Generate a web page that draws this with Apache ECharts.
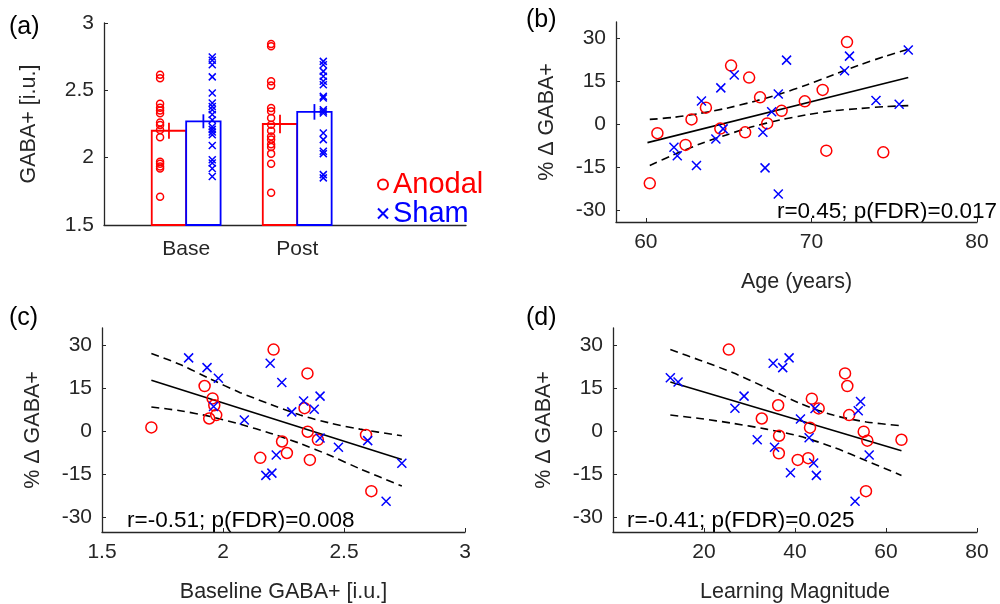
<!DOCTYPE html>
<html>
<head>
    <meta charset="utf-8">
    <title>GABA+ figure</title>
    <script src="https://cdn.jsdelivr.net/npm/echarts@6/dist/echarts.min.js"></script>
</head>
<style>
html, body { margin: 0; width: 100%; height: 100%; background: #fff; }
div#main { width: 1000px; height: 604px; }
</style>
<body>
    <div id="main"></div>
    <script type="text/javascript">
        // ---- panel (a): GABA+ per session
        var groups = ['Base', 'Post'];
        var barAnodal = [2.20, 2.25];
        var barSham = [2.27, 2.34];
        var seAnodal = [0.06, 0.068];
        var seSham = [0.052, 0.058];
        var baseAnodal = [2.616, 2.59, 2.40, 2.37, 2.35, 2.33, 2.262, 2.242, 2.205, 2.151, 1.97, 1.955, 1.935, 1.92, 1.71];
        var baseSham = [2.748, 2.723, 2.69, 2.60, 2.48, 2.406, 2.38, 2.356, 2.32, 2.28, 2.23, 2.21, 2.19, 2.17, 2.09, 1.985, 1.96, 1.92, 1.86];
        var postAnodal = [2.844, 2.827, 2.567, 2.535, 2.369, 2.344, 2.295, 2.245, 2.20, 2.158, 2.134, 2.10, 2.08, 2.03, 1.955, 1.74];
        var postSham = [2.715, 2.69, 2.641, 2.604, 2.567, 2.542, 2.455, 2.443, 2.356, 2.344, 2.332, 2.183, 2.134, 2.047, 2.03, 1.874, 1.85];

        // ---- panel (b): age
        var ageAnodal = [[60.24,-20.6],[60.7,-3.1],[62.4,-7.2],[62.76,1.7],[63.63,5.8],[64.5,-1.5],[65.15,20.5],[66.0,-2.8],[66.24,16.3],[66.9,9.4],[67.33,0.3],[68.2,4.7],[69.6,8.0],[70.68,12.0],[70.9,-9.2],[72.15,28.7],[74.34,-9.8]];
        var ageSham = [[61.7,-8.0],[61.9,-11.0],[63.06,-14.4],[63.36,8.1],[64.23,-5.1],[64.53,12.7],[64.67,-1.6],[65.34,17.2],[67.07,-2.8],[67.2,-15.2],[67.6,4.4],[68.0,10.6],[68.0,-24.3],[68.5,22.4],[72.0,18.7],[72.3,23.8],[73.9,8.3],[75.3,7.0],[75.85,25.9]];
        var ageFit = [[60.1,-6.4],[75.85,16.3]];
        var ageUpper = [[60.24,1.7],[61.65,2.4],[63.26,3.8],[64.87,5.6],[66.48,7.9],[68.1,10.6],[69.7,13.7],[71.3,17.2],[72.9,20.7],[74.5,23.8],[75.85,26.2]];
        var ageLower = [[60.24,-14.4],[61.65,-10.7],[63.26,-6.9],[64.87,-3.7],[66.48,-0.8],[68.1,1.5],[69.7,3.3],[71.3,4.7],[72.9,5.5],[74.5,6.2],[75.85,6.5]];

        // ---- panel (c): baseline GABA+
        var gabaAnodal = [[1.704,1.4],[1.924,15.8],[1.957,11.5],[1.964,9.1],[1.972,5.7],[1.943,4.5],[2.209,28.5],[2.349,20.2],[2.337,8.1],[2.35,-0.1],[2.392,-2.9],[2.244,-3.5],[2.264,-7.5],[2.154,-9.2],[2.359,-9.9],[2.591,-1.2],[2.613,-20.8]];
        var gabaSham = [[1.858,25.6],[1.934,22.2],[1.981,18.5],[1.961,8.7],[2.088,4.0],[2.195,23.7],[2.243,17.0],[2.284,6.8],[2.333,10.6],[2.377,7.7],[2.401,12.3],[2.401,-2.3],[2.22,-8.2],[2.177,-15.3],[2.202,-14.5],[2.477,-5.5],[2.598,-3.2],[2.674,-24.3],[2.739,-11.1]];
        var gabaFit = [[1.704,17.8],[2.739,-9.8]];
        var gabaUpper = [[1.704,27.1],[1.823,23.3],[1.947,18.3],[2.071,13.5],[2.195,9.5],[2.319,5.7],[2.443,2.9],[2.566,0.8],[2.739,-1.5]];
        var gabaLower = [[1.704,8.5],[1.823,7.2],[1.947,5.2],[2.071,2.5],[2.195,-0.6],[2.319,-4.2],[2.443,-8.4],[2.566,-13.0],[2.739,-19.0]];

        // ---- panel (d): learning magnitude
        var learnAnodal = [[25.45,28.5],[36.3,9.1],[32.7,4.5],[36.5,-1.5],[36.45,-7.6],[40.6,-9.9],[42.9,-9.3],[43.7,11.4],[45.2,8.0],[43.3,1.3],[51.0,20.2],[51.5,15.8],[51.9,5.7],[55.1,-0.1],[55.9,-3.2],[63.4,-2.9],[55.6,-20.8]];
        var learnSham = [[12.6,18.7],[14.3,17.2],[26.8,8.1],[28.8,12.3],[31.7,-2.9],[35.2,23.7],[37.3,22.2],[38.7,25.6],[35.5,-5.5],[39.0,-14.4],[41.2,4.3],[43.1,-2.2],[44.4,8.0],[44.1,-11.0],[44.7,-15.3],[53.9,7.2],[54.4,10.4],[56.3,-8.2],[53.2,-24.3]];
        var learnFit = [[12.6,17.2],[63.4,-6.7]];
        var learnUpper = [[12.6,28.5],[19.07,24.8],[26.4,20.4],[33.7,15.2],[41.07,9.8],[48.4,5.7],[55.7,3.3],[63.4,2.0]];
        var learnLower = [[12.6,5.7],[19.07,4.5],[26.4,2.8],[33.7,0.8],[41.07,-1.7],[48.4,-5.5],[55.7,-10.2],[63.4,-15.3]];

        var stats = ['r=0.45; p(FDR)=0.017', 'r=-0.51; p(FDR)=0.008', 'r=-0.41; p(FDR)=0.025'];
        var pctTicks = [-30, -15, 0, 15, 30];

        var RED = '#ff0000', BLUE = '#0000ff', INK = '#262626';
        var FONT = 'Liberation Sans, Arial, Helvetica, sans-serif';
        var CROSS = 'path://M0,0L10,10M10,0L0,10';

        function axis(grid, min, max, ticks, extra) {
            return Object.assign({
                type: 'value', gridIndex: grid, min: min, max: max,
                axisLine: { show: true, onZero: false, lineStyle: { color: INK, width: 1.3 } },
                axisTick: { show: true, inside: true, length: 4, customValues: ticks, lineStyle: { color: INK } },
                axisLabel: { customValues: ticks, color: INK, fontSize: 21, fontFamily: FONT, margin: 10 },
                splitLine: { show: false },
                nameLocation: 'middle',
                nameTextStyle: { color: INK, fontSize: 21.5, fontFamily: FONT }
            }, extra || {});
        }

        function dots(name, idx, data, size) {
            var isA = name === 'Anodal';
            return {
                type: 'scatter', name: name, xAxisIndex: idx, yAxisIndex: idx, data: data,
                symbol: isA ? 'circle' : CROSS, symbolSize: size,
                itemStyle: { color: 'rgba(0,0,0,0)', borderColor: isA ? RED : BLUE, borderWidth: 1.5, opacity: 1 },
                emphasis: { disabled: true }, z: 3
            };
        }

        function line(idx, data, dashed) {
            return {
                type: 'line', xAxisIndex: idx, yAxisIndex: idx, data: data, symbol: 'none',
                smooth: dashed ? 0.3 : false, silent: true,
                lineStyle: { color: '#000', width: 1.6, type: dashed ? [8, 5] : 'solid' }, z: 2
            };
        }

        // panel (a) pieces placed around each group's position
        var barW = 0.31, dotOff = 0.235;
        function barsData(means, ses, side) {
            return means.map(function (m, i) { return [i + 1, m, ses[i], side]; });
        }
        function renderBar(params, api) {
            var c = api.value(0), m = api.value(1), se = api.value(2), side = api.value(3);
            var x0 = side < 0 ? c - barW : c, x1 = side < 0 ? c : c + barW;
            var tl = api.coord([x0, m]), br = api.coord([x1, 1.5]);
            var mid = api.coord([(x0 + x1) / 2, m + se]), low = api.coord([(x0 + x1) / 2, m - se]);
            var col = side < 0 ? RED : BLUE;
            return {
                type: 'group', children: [
                    { type: 'rect', shape: { x: tl[0], y: tl[1], width: br[0] - tl[0], height: br[1] - tl[1] },
                      style: { fill: '#fff', stroke: col, lineWidth: 1.8 } },
                    { type: 'line', shape: { x1: mid[0], y1: mid[1], x2: low[0], y2: low[1] },
                      style: { stroke: col, lineWidth: 1.8 } }
                ]
            };
        }
        function spread(vals, pos) {
            return vals.map(function (v) { return [pos, v]; });
        }

        var myChart = echarts.init(document.getElementById('main'), null, { renderer: 'canvas' });
        var option = {
            animation: false,
            textStyle: { fontFamily: FONT },
            grid: [
                { left: 104, top: 23, width: 362, height: 202 },
                { left: 616, top: 22, width: 361, height: 200 },
                { left: 102, top: 328, width: 363, height: 205 },
                { left: 613, top: 328, width: 364, height: 206 }
            ],
            xAxis: [
                axis(0, 0.26, 3.52, [1, 2], {
                    axisTick: { show: false },
                    axisLabel: { customValues: [1, 2], color: INK, fontSize: 21, fontFamily: FONT, margin: 14,
                        formatter: function (v) { return groups[Math.round(v) - 1]; } }
                }),
                axis(1, 58.2, 80, [60, 70, 80], { name: 'Age (years)', nameGap: 49 }),
                axis(2, 1.5, 3, [1.5, 2, 2.5, 3], { name: 'Baseline GABA+ [i.u.]', nameGap: 49 }),
                axis(3, 0, 80, [20, 40, 60, 80], { name: 'Learning Magnitude', nameGap: 49 })
            ],
            yAxis: [
                axis(0, 1.5, 3, [1.5, 2, 2.5, 3], { name: 'GABA+ [i.u.]', nameGap: 64 }),
                axis(1, -34.1, 35.7, pctTicks, { name: '% \u0394 GABA+', nameGap: 58 }),
                axis(2, -35, 36, pctTicks, { name: '% \u0394 GABA+', nameGap: 58 }),
                axis(3, -35, 36, pctTicks, { name: '% \u0394 GABA+', nameGap: 58 })
            ],
            legend: {
                left: 377, top: 170, padding: 0, orient: 'vertical', itemWidth: 10, itemHeight: 10, itemGap: 0,
                selectedMode: false,
                textStyle: { fontSize: 29, lineHeight: 28, fontFamily: FONT },
                data: [
                    { name: 'Anodal', textStyle: { color: RED } },
                    { name: 'Sham', textStyle: { color: BLUE } }
                ]
            },
            series: [
                { type: 'custom', xAxisIndex: 0, yAxisIndex: 0, renderItem: renderBar,
                  data: barsData(barAnodal, seAnodal, -1).concat(barsData(barSham, seSham, 1)), z: 1, silent: true },
                dots('Anodal', 0, spread(baseAnodal, 1 - dotOff).concat(spread(postAnodal, 2 - dotOff)), 7),
                dots('Sham', 0, spread(baseSham, 1 + dotOff).concat(spread(postSham, 2 + dotOff)), 7),

                line(1, ageFit, false), line(1, ageUpper, true), line(1, ageLower, true),
                dots('Anodal', 1, ageAnodal, 11), dots('Sham', 1, ageSham, 9),

                line(2, gabaFit, false), line(2, gabaUpper, true), line(2, gabaLower, true),
                dots('Anodal', 2, gabaAnodal, 11), dots('Sham', 2, gabaSham, 9),

                line(3, learnFit, false), line(3, learnUpper, true), line(3, learnLower, true),
                dots('Anodal', 3, learnAnodal, 11), dots('Sham', 3, learnSham, 9)
            ],
            graphic: [
                { type: 'text', x: 9, y: 27, style: { text: '(a)', fontSize: 25, fontFamily: FONT, fill: '#000', verticalAlign: 'middle', textVerticalAlign: 'middle' } },
                { type: 'text', x: 526, y: 20, style: { text: '(b)', fontSize: 25, fontFamily: FONT, fill: '#000', verticalAlign: 'middle', textVerticalAlign: 'middle' } },
                { type: 'text', x: 9, y: 318, style: { text: '(c)', fontSize: 25, fontFamily: FONT, fill: '#000', verticalAlign: 'middle', textVerticalAlign: 'middle' } },
                { type: 'text', x: 526, y: 318, style: { text: '(d)', fontSize: 25, fontFamily: FONT, fill: '#000', verticalAlign: 'middle', textVerticalAlign: 'middle' } },
                { type: 'text', x: 997, y: 212, style: { text: stats[0], fontSize: 22.5, fontFamily: FONT, fill: '#000', align: 'right', textAlign: 'right', verticalAlign: 'middle', textVerticalAlign: 'middle' } },
                { type: 'text', x: 127, y: 521, style: { text: stats[1], fontSize: 22.5, fontFamily: FONT, fill: '#000', verticalAlign: 'middle', textVerticalAlign: 'middle' } },
                { type: 'text', x: 627, y: 521, style: { text: stats[2], fontSize: 22.5, fontFamily: FONT, fill: '#000', verticalAlign: 'middle', textVerticalAlign: 'middle' } }
            ]
        };
        myChart.setOption(option);
    </script>
</body>
</html>
